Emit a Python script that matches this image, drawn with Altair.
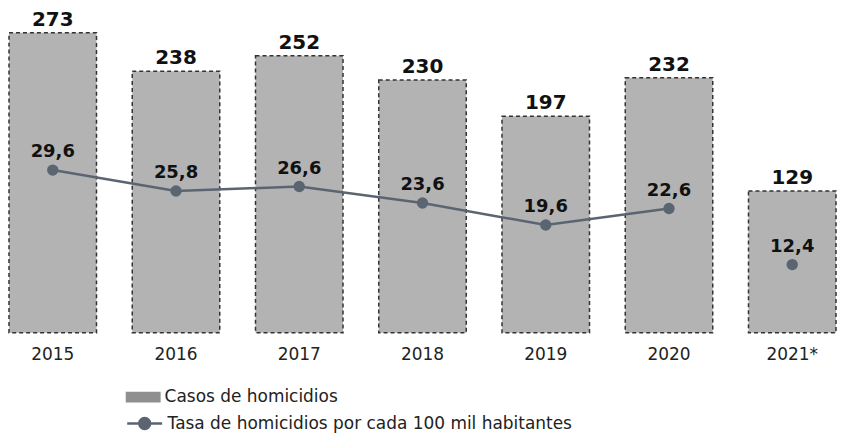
import altair as alt
import pandas as pd

years = ["2015", "2016", "2017", "2018", "2019", "2020", "2021*"]
casos = [273, 238, 252, 230, 197, 232, 129]
tasa = [29.6, 25.8, 26.6, 23.6, 19.6, 22.6, 12.4]
in_line = [True, True, True, True, True, True, False]

serie_casos = "Casos de homicidios"
serie_tasa = "Tasa de homicidios por cada 100 mil habitantes"

df = pd.DataFrame({
    "year": years,
    "casos": casos,
    "tasa": tasa,
    "tasa_lbl": [f"{v:.1f}".replace(".", ",") for v in tasa],
    "in_line": in_line,
})

FONT = "DejaVu Sans"
LINE_C = "#5b6572"

x = alt.X("year:N", sort=years, title=None,
          scale=alt.Scale(paddingInner=0.29, paddingOuter=0),
          axis=alt.Axis(domain=False, ticks=False, tickSize=0, labelAngle=0,
                        labelFont=FONT, labelFontSize=17, labelColor="#222",
                        labelPadding=14))

y_bar = alt.Y("casos:Q", scale=alt.Scale(domain=[0, 295]), axis=None)
y_rate = alt.Y("tasa:Q", scale=alt.Scale(domain=[0, 59]), axis=None)

base = alt.Chart(df)

bars = base.mark_bar(stroke="#333", strokeDash=[4, 3], strokeWidth=1.5,
                     fillOpacity=0.68).encode(
    x=x, y=y_bar,
    fill=alt.Fill("s:N", scale=alt.Scale(domain=[serie_casos], range=["#8f8f8f"]),
                  legend=alt.Legend(orient="none", legendX=117, legendY=372,
                                    title=None, padding=0,
                                    symbolType="M-1,-0.31H1V0.31H-1Z",
                                    symbolSize=1225, symbolOpacity=1,
                                    symbolStrokeWidth=0, labelOffset=4,
                                    labelFont=FONT, labelFontSize=17,
                                    labelColor="#222", labelLimit=600)),
).transform_calculate(s=f"'{serie_casos}'")

bar_text = base.mark_text(font=FONT, fontSize=20, fontWeight="bold",
                          baseline="alphabetic", dy=-7, color="#111").encode(
    x=x, y=y_bar, text="casos:Q")

bar_layer = alt.layer(bars, bar_text)

line = base.mark_line(strokeWidth=2.5).encode(
    x=x, y=y_rate,
    stroke=alt.Stroke("s:N", scale=alt.Scale(domain=[serie_tasa], range=[LINE_C]),
                      legend=alt.Legend(orient="none", legendX=117, legendY=397,
                                        title=None, padding=0,
                                        symbolType="M-1,0L1,0M0.31,0A0.31,0.31,0,1,1,-0.31,0A0.31,0.31,0,1,1,0.31,0Z",
                                        symbolSize=1225, symbolFillColor=LINE_C,
                                        symbolStrokeColor=LINE_C,
                                        symbolStrokeWidth=2.5, labelOffset=4,
                                        labelFont=FONT, labelFontSize=17,
                                        labelColor="#222", labelLimit=600)),
).transform_filter("datum.in_line").transform_calculate(s=f"'{serie_tasa}'")

pts = base.mark_circle(size=130, color=LINE_C, opacity=1).encode(x=x, y=y_rate)

rate_text = base.mark_text(font=FONT, fontSize=18, fontWeight="bold",
                           baseline="alphabetic", dy=-13, color="#111").encode(
    x=x, y=y_rate, text="tasa_lbl:N")

rate_layer = alt.layer(line, pts, rate_text)

chart = alt.layer(bar_layer, rate_layer).resolve_scale(
    y="independent", fill="independent", stroke="independent"
).properties(
    width=829, height=325, padding=0
).configure_view(stroke=None).configure_legend(symbolLimit=0)

chart.save("out.html", embed_options={"renderer": "svg", "actions": False})
